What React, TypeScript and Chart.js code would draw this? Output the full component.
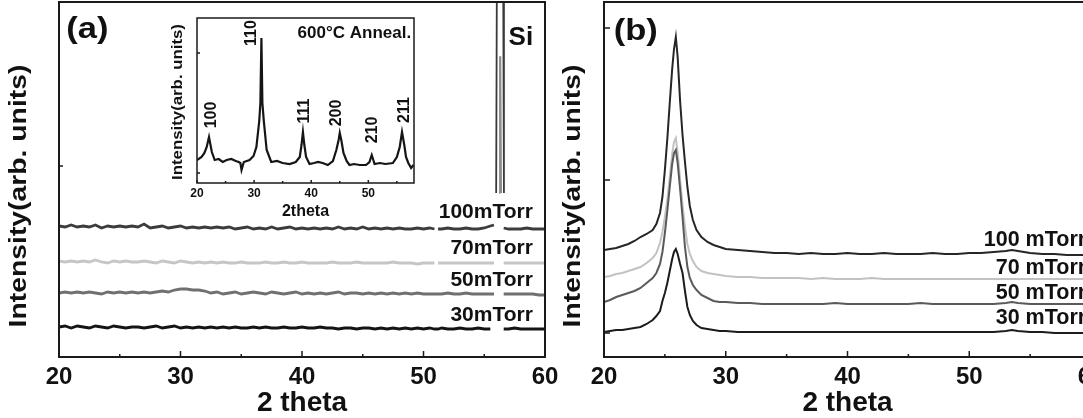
import React, { useEffect, useRef } from "react";
import { Chart, registerables } from "chart.js";
Chart.register(...registerables);

const FAMILY = '"Liberation Sans", Arial, sans-serif';
const INK = "#111";

// ---------- Panel (a): as-deposited films ----------
const thetaA = [
  20, 20.5, 21, 21.5, 22, 22.5, 23, 23.5, 24, 24.5, 25, 25.5, 26, 26.5, 27, 27.5, 28, 28.5, 29, 29.5, 30, 30.5, 31,
  31.5, 32, 32.5, 33, 33.5, 34, 34.5, 35, 35.5, 36, 36.5, 37, 37.5, 38, 38.5, 39, 39.5, 40, 40.5, 41, 41.5, 42, 42.5,
  43, 43.5, 44, 44.5, 45, 45.5, 46, 46.5, 47, 47.5, 48, 48.5, 49, 49.5, 50, 50.5,
  50.9, 51.05, 51.2, 51.5, 52, 52.5, 53, 53.5, 54, 54.5, 55, 55.5, 55.8, 56.2, 56.6, 57, 57.5, 58, 58.5, 59, 59.5, 60,
];
const a100 = [
  131, 130, 132, 130, 131, 130, 132, 129, 131, 130, 131,
  130, 131, 130, 133, 129, 130, 131, 129, 130, 131, 129, 130,
  129, 130, 129, 130, 129, 130, 128, 129, 130, 128,
  129, 128, 130, 128, 129, 130, 128, 129, 128, 129,
  128, 129, 128, 130, 128, 129, 128, 130, 128, 129,
  128, 129, 128, 129, 128, 128, 129, 128, 129,
  128, null, 128, 128, 129, 128, 128, 129, 128, 128, 129, 131, 132, null, 129, 128, 128, 128, 129, 128, 128, 128,
];
const a70 = [
  96, 95, 96, 95, 96, 95, 97, 95, 94, 96, 95,
  96, 95, 95, 96, 95, 94, 96, 95, 94, 96, 95, 94,
  95, 94, 95, 94, 95, 94, 94, 95, 94, 94,
  94, 95, 94, 94, 95, 94, 94, 95, 94, 94,
  94, 94, 95, 94, 94, 94, 95, 94, 94, 94,
  94, 94, 95, 94, 94, 94, 93, 94, 94,
  94, null, 94, 94, 94, 94, 94, 94, 94, 94, 94, 94, 94, null, 94, 94, 94, 94, 94, 94, 94, 94,
];
const a50 = [
  64, 65, 64, 65, 64, 65, 64, 63, 65, 64, 65,
  64, 65, 64, 65, 64, 65, 66, 65, 67, 68, 68, 67,
  67, 66, 64, 65, 63, 64, 65, 63, 64, 65,
  64, 63, 65, 64, 63, 64, 65, 63, 64, 63,
  64, 63, 64, 65, 63, 64, 64, 63, 64, 63,
  64, 63, 64, 63, 64, 63, 64, 63, 63,
  63, 63, 63, 63, 64, 63, 63, 64, 63, 63, 63, 63, 63, null, 63, 63, 63, 63, 63, 63, 62, 62,
];
const a30 = [
  30, 31, 29, 31, 30, 29, 31, 30, 29, 31, 30,
  29, 30, 30, 29, 30, 31, 29, 30, 31, 29, 30, 29,
  30, 29, 30, 29, 30, 29, 30, 29, 29, 30,
  29, 30, 29, 29, 30, 29, 29, 30, 29, 29,
  30, 29, 29, 28, 29, 29, 28, 29, 29, 28,
  29, 28, 29, 28, 29, 28, 29, 28, 29,
  28, 28, 28, 29, 28, 28, 29, 28, 28, 29, 28, 28, null, null, 28, 28, 29, 28, 28, 28, 28, 28,
];
// Si substrate reflection
const siX = [55.98, 56.05, 56.55, 56.62];
const siY = [164, 420, 420, 164];
const siInnerX = [56.22, 56.28, 56.34, 56.4];
const siInnerY = [164, 300, 300, 164];

// ---------- Inset: 600°C anneal ----------
const insetX = [
  20, 20.8, 21.3, 21.7, 22.1, 22.6, 23.1, 23.8, 24.5, 25.2, 26.0, 26.8, 27.3, 27.6, 27.8, 28.2, 29.2, 29.9, 30.4, 30.9,
  31.1, 31.28, 31.45, 31.7, 32.2, 33.0, 34.0, 35.0, 36.2, 37.3, 38.0, 38.3, 38.55, 38.8, 39.1, 39.7, 40.5, 41.2, 42.0,
  42.9, 43.8, 44.4, 44.8, 45.0, 45.3, 45.65, 46.2, 46.7, 47.5, 48.5, 49.6, 50.2, 50.6, 51.1, 52.0, 53.0, 54.3, 55.0,
  55.5, 55.9, 56.3, 56.6, 57.0, 57.5, 57.9,
];
const insetY = [
  23, 26, 30, 36, 46, 31, 23, 24, 21, 23, 24, 22, 21, 20, 13, 21, 23, 27, 36, 62,
  80, 145, 80, 62, 33, 21, 22, 20, 19, 21, 26, 38, 51, 38, 26, 19, 20, 21, 20,
  18, 22, 33, 43, 50, 42, 30, 22, 18, 19, 18, 18, 21, 28, 19, 20, 19, 20, 26,
  36, 51, 38, 26, 20, 15, 18,
];

// ---------- Panel (b) ----------
const thetaB = [
  20, 20.5, 21, 21.5, 22, 22.5, 23, 23.5, 24, 24.3, 24.6, 24.8, 25.0, 25.2, 25.4, 25.6, 25.75, 25.9, 26.05, 26.25,
  26.45, 26.65, 26.85, 27.05, 27.3, 27.6, 28.0, 28.5, 29.0, 29.5, 30, 31, 32, 33, 34, 35, 36, 37, 38, 39, 40, 41, 42,
  43, 44, 45, 46, 47, 48, 49, 50, 51, 52, 53, 53.5, 54, 55, 56, 57, 58, 59, 60,
];
const b100 = [
  107, 108, 109, 111, 113, 116, 120, 123, 127, 133, 144, 160, 187, 218, 254, 288, 308, 320, 300, 256,
  222, 195, 170, 151, 137, 127, 120, 115, 112, 110, 108, 107, 106, 105, 104, 104, 103, 104, 103, 103, 104, 103, 103,
  104, 103, 103, 103, 104, 103, 103, 104, 104, 105, 106, 107, 106, 104, 103, 103, 102, 102, 102,
];
const b70 = [
  80, 81, 83, 84, 86, 88, 90, 94, 99, 104, 114, 125, 140, 157, 180, 203, 215, 219, 205, 178,
  152, 130, 113, 103, 96, 90, 86, 84, 83, 82, 81, 80, 80, 79, 79, 79, 79, 78, 79, 78, 78, 78, 79,
  78, 78, 78, 78, 78, 78, 78, 78, 78, 78, 78, 78, 78, 78, 78, 78, 78, 78, 78,
];
const b50 = [
  55, 57, 60, 62, 64, 66, 69, 74, 79, 84, 93, 105, 124, 146, 170, 193, 204, 207, 194, 168,
  140, 110, 90, 79, 72, 67, 62, 59, 56, 55, 55, 54, 54, 53, 53, 53, 53, 53, 53, 54, 53, 53, 53,
  53, 53, 53, 54, 53, 53, 53, 53, 53, 53, 54, 55, 54, 53, 53, 53, 53, 53, 53,
];
const b30 = [
  25, 26, 27, 27, 28, 29, 30, 33, 37, 41, 46, 56, 64, 74, 86, 98, 105, 108, 103, 93,
  84, 66, 50, 42, 36, 32, 29, 28, 27, 26, 26, 25, 25, 25, 25, 25, 25, 25, 25, 25, 25, 25, 25,
  25, 25, 25, 25, 25, 25, 25, 25, 25, 25, 26, 27, 26, 25, 25, 24, 24, 24, 24,
];

const seriesNames = ["100mTorr", "70mTorr", "50mTorr", "30mTorr"];
const seriesNamesB = ["100 mTorr", "70 mTorr", "50 mTorr", "30 mTorr"];
const xTickVals = [20, 30, 40, 50, 60];
const xMinorVals = [25, 35, 45, 55];
const insetTickVals = [20, 30, 40, 50];
const peakNames = ["100", "110", "111", "200", "210", "211"];

const pts = (xs: number[], ys: (number | null)[]) => xs.map((x, i) => ({ x, y: ys[i] }));

type TextItem = {
  text: string;
  x: number;
  y: number;
  size: number;
  align?: CanvasTextAlign;
  rot?: boolean;
  stretch?: number;
  px?: boolean;
};

type DecorCfg = {
  xMajor: number[];
  xMinor: number[];
  yTicks: number[];
  majorLen: number;
  minorLen: number;
  yLen: number;
  border: number;
  texts: TextItem[];
};

const makeDecor = (id: string, cfg: DecorCfg) => ({
  id,
  afterDraw(chart: any) {
    const { ctx, chartArea: a, scales } = chart;
    const xs = scales.x;
    const ys = scales.y;
    ctx.save();
    ctx.strokeStyle = "#1a1a1a";
    ctx.lineWidth = cfg.border;
    ctx.strokeRect(a.left, a.top, a.right - a.left, a.bottom - a.top);
    ctx.lineWidth = Math.max(1.5, cfg.border - 0.5);
    ctx.beginPath();
    cfg.xMajor.forEach((v) => {
      const p = xs.getPixelForValue(v);
      ctx.moveTo(p, a.bottom);
      ctx.lineTo(p, a.bottom - cfg.majorLen);
    });
    cfg.xMinor.forEach((v) => {
      const p = xs.getPixelForValue(v);
      ctx.moveTo(p, a.bottom);
      ctx.lineTo(p, a.bottom - cfg.minorLen);
    });
    cfg.yTicks.forEach((v) => {
      const p = ys.getPixelForValue(v);
      ctx.moveTo(a.left, p);
      ctx.lineTo(a.left + cfg.yLen, p);
    });
    ctx.stroke();
    cfg.texts.forEach((t) => {
      const px = t.px ? t.x : xs.getPixelForValue(t.x);
      const py = t.px ? t.y : ys.getPixelForValue(t.y);
      ctx.save();
      ctx.translate(px, py);
      if (t.rot) ctx.rotate(-Math.PI / 2);
      ctx.scale(t.stretch ?? 1, 1);
      ctx.font = `bold ${t.size}px ${FAMILY}`;
      ctx.textAlign = t.align ?? "left";
      ctx.textBaseline = "middle";
      ctx.fillStyle = INK;
      ctx.fillText(t.text, 0, 0);
      ctx.restore();
    });
    ctx.restore();
  },
});

const line = (label: string, data: any[], color: string, width: number) => ({
  label,
  data,
  borderColor: color,
  borderWidth: width,
  pointRadius: 0,
  fill: false,
  tension: 0,
  spanGaps: false,
});

const xScale = (min: number, max: number, ticks: number[], height: number, tickSize: number, pad: number, title: string, titleSize: number, titleBottom: number) => ({
  type: "linear",
  min,
  max,
  grid: { display: false, drawTicks: false },
  border: { display: false },
  afterBuildTicks: (s: any) => {
    s.ticks = ticks.map((v) => ({ value: v }));
  },
  afterFit: (s: any) => {
    s.height = height;
  },
  ticks: {
    padding: pad,
    autoSkip: false,
    maxRotation: 0,
    color: INK,
    font: { family: FAMILY, size: tickSize, weight: "bold" },
  },
  title: {
    display: true,
    text: title,
    color: INK,
    font: { family: FAMILY, size: titleSize, weight: "bold", lineHeight: 1 },
    padding: { top: 0, bottom: titleBottom },
  },
});

const yScale = (min: number, max: number, width: number) => ({
  type: "linear",
  min,
  max,
  grid: { display: false, drawTicks: false },
  border: { display: false },
  ticks: { display: false },
  afterFit: (s: any) => {
    s.width = width;
  },
});

const baseOptions = (padding: any, scales: any) => ({
  animation: false,
  responsive: false,
  maintainAspectRatio: false,
  layout: { padding },
  plugins: { legend: { display: false }, tooltip: { enabled: false } },
  scales,
});

function cfgA(): any {
  return {
    type: "line",
    data: {
      datasets: [
        line("Si", pts(siX, siY), "#3a3a3a", 1.8),
        line("Si inner", pts(siInnerX, siInnerY), "#8c8c8c", 1.5),
        line(seriesNames[3], pts(thetaA, a30), "#141414", 2.8),
        line(seriesNames[2], pts(thetaA, a50), "#707070", 2.8),
        line(seriesNames[1], pts(thetaA, a70), "#c6c6c6", 2.8),
        line(seriesNames[0], pts(thetaA, a100), "#3c3c3c", 2.8),
      ],
    },
    options: baseOptions(
      { top: 2, right: 25, bottom: 0, left: 0 },
      {
        x: xScale(20, 60, xTickVals, 61, 24, 6, "2 theta", 28, 1),
        y: yScale(0, 355, 59),
      }
    ),
    plugins: [
      makeDecor("decorA", {
        xMajor: xTickVals,
        xMinor: xMinorVals,
        yTicks: [191],
        majorLen: 6,
        minorLen: 3,
        yLen: 4,
        border: 2,
        texts: [
          { text: "(a)", x: 20.6, y: 327, size: 30, stretch: 1.15 },
          { text: "Si", x: 57.0, y: 319, size: 26 },
          { text: seriesNames[0], x: 59.0, y: 145, size: 21, align: "right" },
          { text: seriesNames[1], x: 59.0, y: 109, size: 21, align: "right" },
          { text: seriesNames[2], x: 59.0, y: 77, size: 21, align: "right" },
          { text: seriesNames[3], x: 59.0, y: 42, size: 21, align: "right" },
          { text: "Intensity(arb. units)", x: 19, y: 196, size: 24, rot: true, stretch: 1.18, align: "center", px: true },
        ],
      }),
    ],
  };
}

function cfgB(): any {
  return {
    type: "line",
    data: {
      datasets: [
        line(seriesNamesB[3], pts(thetaB, b30), "#1c1c1c", 2),
        line(seriesNamesB[2], pts(thetaB, b50), "#5a5a5a", 2),
        line(seriesNamesB[1], pts(thetaB, b70), "#c2c2c2", 2),
        line(seriesNamesB[0], pts(thetaB, b100), "#262626", 2),
      ],
    },
    options: baseOptions(
      { top: 2, right: 29, bottom: 0, left: 0 },
      {
        x: xScale(20, 60, xTickVals, 61, 24, 6, "2 theta", 28, 1),
        y: yScale(0, 355, 54),
      }
    ),
    plugins: [
      makeDecor("decorB", {
        xMajor: xTickVals,
        xMinor: xMinorVals,
        yTicks: [329, 177, 24],
        majorLen: 6,
        minorLen: 3,
        yLen: 6,
        border: 2,
        texts: [
          { text: "(b)", x: 20.8, y: 325, size: 30, stretch: 1.15 },
          { text: seriesNamesB[0], x: 59.6, y: 117, size: 21.5, align: "right" },
          { text: seriesNamesB[1], x: 59.6, y: 89, size: 21.5, align: "right" },
          { text: seriesNamesB[2], x: 59.6, y: 64, size: 21.5, align: "right" },
          { text: seriesNamesB[3], x: 59.6, y: 39, size: 21.5, align: "right" },
          { text: "Intensity(arb. units)", x: 23, y: 196, size: 24, rot: true, stretch: 1.18, align: "center", px: true },
        ],
      }),
    ],
  };
}

function cfgI(): any {
  return {
    type: "line",
    data: {
      datasets: [line("600°C Anneal.", pts(insetX, insetY), "#151515", 2.2)],
    },
    options: baseOptions(
      { top: 18, right: 16, bottom: 0, left: 0 },
      {
        x: xScale(20, 58, insetTickVals, 37, 12, 3, "2theta", 16, 0),
        y: yScale(0, 165, 47),
      }
    ),
    plugins: [
      makeDecor("decorI", {
        xMajor: insetTickVals,
        xMinor: [25, 35, 45, 55],
        yTicks: [130, 10],
        majorLen: 3,
        minorLen: 2,
        yLen: 3,
        border: 1.5,
        texts: [
          { text: "600°C Anneal.", x: 57.5, y: 150, size: 17, align: "right" },
          { text: peakNames[0], x: 22.6, y: 68, size: 16, rot: true, align: "center" },
          { text: peakNames[1], x: 29.6, y: 150, size: 16, rot: true, align: "center" },
          { text: peakNames[2], x: 38.85, y: 72, size: 16, rot: true, align: "center" },
          { text: peakNames[3], x: 44.4, y: 70, size: 16, rot: true, align: "center" },
          { text: peakNames[4], x: 50.7, y: 53, size: 16, rot: true, align: "center" },
          { text: peakNames[5], x: 56.3, y: 73, size: 16, rot: true, align: "center" },
          { text: "Intensity(arb. units)", x: 28, y: 102, size: 14, rot: true, stretch: 1.2, align: "center", px: true },
        ],
      }),
    ],
  };
}

export default function App() {
  const refA = useRef<HTMLCanvasElement>(null);
  const refB = useRef<HTMLCanvasElement>(null);
  const refI = useRef<HTMLCanvasElement>(null);

  useEffect(() => {
    const charts = [
      new Chart(refA.current as HTMLCanvasElement, cfgA()),
      new Chart(refB.current as HTMLCanvasElement, cfgB()),
      new Chart(refI.current as HTMLCanvasElement, cfgI()),
    ];
    return () => charts.forEach((c) => c.destroy());
  }, []);

  return (
    <div
      style={{
        position: "fixed",
        left: 0,
        top: 0,
        width: 1083,
        height: 418,
        overflow: "hidden",
        background: "#fff",
      }}
    >
      <canvas ref={refA} width={570} height={418} style={{ position: "absolute", left: 0, top: 0 }} />
      <canvas ref={refB} width={570} height={418} style={{ position: "absolute", left: 550, top: 0 }} />
      <canvas ref={refI} width={280} height={220} style={{ position: "absolute", left: 150, top: 0 }} />
    </div>
  );
}
